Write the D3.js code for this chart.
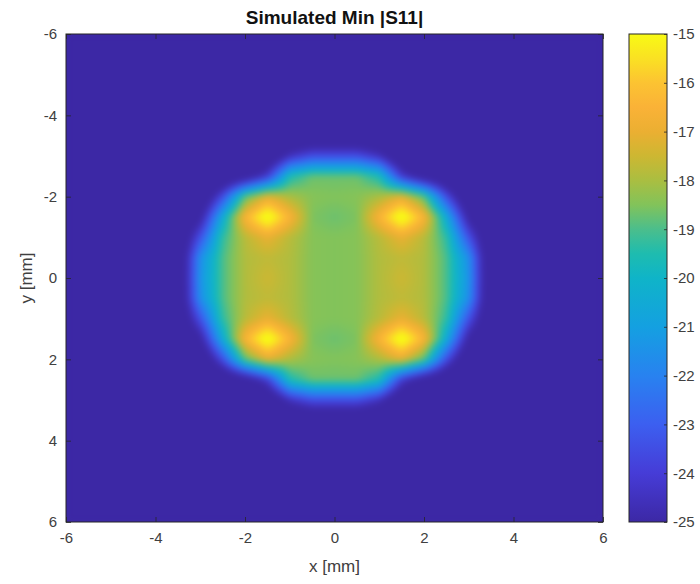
<!DOCTYPE html>
<html><head><meta charset="utf-8">
<script src="https://cdn.jsdelivr.net/npm/d3@7"></script>
<style>
body{margin:0;background:#fff}
svg{display:block}
text{font-family:"Liberation Sans",Arial,Helvetica,sans-serif}
</style>
</head><body>
<svg id="chart" width="700" height="584"></svg>
<script>
// ---------- data ----------
const xTicks = [-6, -4, -2, 0, 2, 4, 6];
const yTicks = [-6, -4, -2, 0, 2, 4, 6];
const cTicks = [-25, -24, -23, -22, -21, -20, -19, -18, -17, -16, -15];
const gridX = [-3.5, -3, -2.5, -2, -1.5, -1, -0.5, 0, 0.5, 1, 1.5, 2, 2.5, 3, 3.5];
const gridY = [-3.5, -3, -2.5, -2, -1.5, -1, -0.5, 0, 0.5, 1, 1.5, 2, 2.5, 3, 3.5];
const floorValue = -27;
// |S11| (dB), rows follow gridY, columns follow gridX
const s11Rows = [
  [-27,-27,-27,-27,-27,-27,-27,-27,-27,-27,-27,-27,-27,-27,-27],
  [-27,-27,-27,-27,-27,-24.5,-23.5,-23.5,-23.5,-24.5,-27,-27,-27,-27,-27],
  [-27,-27,-27,-26,-24,-19.6,-18.7,-18.7,-18.7,-19.6,-24,-26,-27,-27,-27],
  [-27,-27,-23.5,-18.9,-17.1,-18.0,-18.45,-18.5,-18.45,-18.0,-17.1,-18.9,-23.5,-27,-27],
  [-27,-25.4,-20.5,-16.5,-14.5,-16.5,-18.55,-18.7,-18.55,-16.5,-14.5,-16.5,-20.5,-25.4,-27],
  [-27,-23.4,-19.3,-17.8,-17.0,-17.8,-18.45,-18.5,-18.45,-17.8,-17.0,-17.8,-19.3,-23.4,-27],
  [-27,-21.6,-19.0,-17.9,-17.7,-17.9,-18.45,-18.5,-18.45,-17.9,-17.7,-17.9,-19.0,-21.6,-27],
  [-27,-21.4,-19.0,-17.9,-17.5,-17.9,-18.45,-18.5,-18.45,-17.9,-17.5,-17.9,-19.0,-21.4,-27],
  [-27,-21.6,-19.0,-17.9,-17.7,-17.9,-18.45,-18.5,-18.45,-17.9,-17.7,-17.9,-19.0,-21.6,-27],
  [-27,-23.4,-19.3,-17.8,-17.0,-17.8,-18.45,-18.5,-18.45,-17.8,-17.0,-17.8,-19.3,-23.4,-27],
  [-27,-25.4,-20.5,-16.5,-14.5,-16.5,-18.55,-18.7,-18.55,-16.5,-14.5,-16.5,-20.5,-25.4,-27],
  [-27,-27,-23.5,-18.9,-17.1,-18.0,-18.45,-18.5,-18.45,-18.0,-17.1,-18.9,-23.5,-27,-27],
  [-27,-27,-27,-26,-24,-19.6,-18.7,-18.7,-18.7,-19.6,-24,-26,-27,-27,-27],
  [-27,-27,-27,-27,-27,-24.5,-23.5,-23.5,-23.5,-24.5,-27,-27,-27,-27,-27],
  [-27,-27,-27,-27,-27,-27,-27,-27,-27,-27,-27,-27,-27,-27,-27]
];
// parula-like colour map stops
const cStops  = [-25, -24, -23, -22, -21, -20, -19.5, -19, -18.5, -18, -17.5, -17, -16.5, -16, -15.5, -15];
const cColors = ["#3c28a5","#463cd7","#3c5ff0","#2882f0","#14a0e1","#0fb4c8","#1ebcaf","#4bbe8c",
                 "#82c35a","#aabe41","#cdb732","#ebaf32","#fab237","#fcc332","#fae123","#f8fa14"];

// ---------- layout ----------
const svg = d3.select("#chart");
const X0 = 66, X1 = 603, Y0 = 34, Y1 = 522;
const CB0 = 629, CB1 = 667;
const ink = "#262626";

const xScale = d3.scaleLinear().domain([-6, 6]).range([X0, X1]);
const yScale = d3.scaleLinear().domain([-6, 6]).range([Y0, Y1]);
const cScale = d3.scaleLinear().domain(cStops).range(cColors).interpolate(d3.interpolateRgb).clamp(true);
const cbScale = d3.scaleLinear().domain([-25, -15]).range([Y1, Y0]);

// ---------- heat map (bilinear shading of the grid, like interp shading) ----------
function valueAt(x, y) {
  if (x <= gridX[0] || x >= gridX[gridX.length - 1] || y <= gridY[0] || y >= gridY[gridY.length - 1]) return floorValue;
  const i = d3.bisectRight(gridX, x) - 1, j = d3.bisectRight(gridY, y) - 1;
  const tx = (x - gridX[i]) / (gridX[i + 1] - gridX[i]);
  const ty = (y - gridY[j]) / (gridY[j + 1] - gridY[j]);
  const a = s11Rows[j][i], b = s11Rows[j][i + 1], c = s11Rows[j + 1][i], d = s11Rows[j + 1][i + 1];
  return (a * (1 - tx) + b * tx) * (1 - ty) + (c * (1 - tx) + d * tx) * ty;
}
const W = X1 - X0, H = Y1 - Y0;
const raw = document.createElement("canvas");
raw.width = W; raw.height = H;
const rctx = raw.getContext("2d");
const img = rctx.createImageData(W, H);
for (let py = 0; py < H; py++) {
  const y = yScale.invert(Y0 + py + 0.5);
  for (let px = 0; px < W; px++) {
    const x = xScale.invert(X0 + px + 0.5);
    const col = d3.rgb(cScale(valueAt(x, y)));
    const k = (py * W + px) * 4;
    img.data[k] = col.r; img.data[k + 1] = col.g; img.data[k + 2] = col.b; img.data[k + 3] = 255;
  }
}
rctx.putImageData(img, 0, 0);
const soft = document.createElement("canvas");
soft.width = W; soft.height = H;
const sctx = soft.getContext("2d");
sctx.fillStyle = cScale(-25);
sctx.fillRect(0, 0, W, H);
sctx.filter = "blur(3px)";
sctx.drawImage(raw, 0, 0);

svg.append("image")
  .attr("x", X0).attr("y", Y0).attr("width", W).attr("height", H)
  .attr("preserveAspectRatio", "none")
  .attr("href", soft.toDataURL());

// ---------- axes ----------
const fmt = d => String(d).replace("\u2212", "-");
const tick = 5;
const gx = svg.append("g").attr("transform", `translate(0,${Y1})`)
  .call(d3.axisBottom(xScale).tickValues(xTicks).tickFormat(fmt).tickSizeInner(-tick).tickSizeOuter(0).tickPadding(10));
const gxt = svg.append("g").attr("transform", `translate(0,${Y0})`)
  .call(d3.axisTop(xScale).tickValues(xTicks).tickFormat("").tickSizeInner(-tick).tickSizeOuter(0));
const gy = svg.append("g").attr("transform", `translate(${X0},0)`)
  .call(d3.axisLeft(yScale).tickValues(yTicks).tickFormat(fmt).tickSizeInner(-tick).tickSizeOuter(0).tickPadding(9));
const gyr = svg.append("g").attr("transform", `translate(${X1},0)`)
  .call(d3.axisRight(yScale).tickValues(yTicks).tickFormat("").tickSizeInner(-tick).tickSizeOuter(0));
[gx, gxt, gy, gyr].forEach(g => {
  g.select(".domain").remove();
  g.selectAll("line").attr("stroke", ink).attr("stroke-width", 0.8);
  g.selectAll("text").attr("fill", "#404040").style("font-size", "15px");
});
svg.append("rect").attr("x", X0).attr("y", Y0).attr("width", W).attr("height", H)
  .attr("fill", "none").attr("stroke", ink).attr("stroke-width", 1);

// ---------- colour bar ----------
const defs = svg.append("defs");
const grad = defs.append("linearGradient").attr("id", "cbgrad")
  .attr("x1", 0).attr("y1", 1).attr("x2", 0).attr("y2", 0);
grad.selectAll("stop").data(cStops).join("stop")
  .attr("offset", d => (d + 25) / 10)
  .attr("stop-color", d => cScale(d));
svg.append("rect").attr("x", CB0).attr("y", Y0).attr("width", CB1 - CB0).attr("height", H)
  .attr("fill", "url(#cbgrad)");
const gc = svg.append("g").attr("transform", `translate(${CB1},0)`)
  .call(d3.axisRight(cbScale).tickValues(cTicks).tickFormat(fmt).tickSizeInner(-3).tickSizeOuter(0).tickPadding(6));
gc.select(".domain").remove();
gc.selectAll("line").attr("stroke", ink).attr("stroke-width", 0.8);
gc.selectAll("text").attr("fill", "#404040").style("font-size", "15px");
svg.append("rect").attr("x", CB0).attr("y", Y0).attr("width", CB1 - CB0).attr("height", H)
  .attr("fill", "none").attr("stroke", ink).attr("stroke-width", 1);

// ---------- labels ----------
svg.append("text").attr("x", (X0 + X1) / 2).attr("y", 24).attr("text-anchor", "middle")
  .attr("fill", "#111").style("font-size", "19px").style("font-weight", "bold")
  .text("Simulated Min |S11|");
svg.append("text").attr("x", (X0 + X1) / 2).attr("y", 572).attr("text-anchor", "middle")
  .attr("fill", "#404040").style("font-size", "17px").text("x [mm]");
svg.append("text").attr("transform", `translate(32,${(Y0 + Y1) / 2}) rotate(-90)`).attr("text-anchor", "middle")
  .attr("fill", "#404040").style("font-size", "17px").text("y [mm]");
</script>
</body></html>
